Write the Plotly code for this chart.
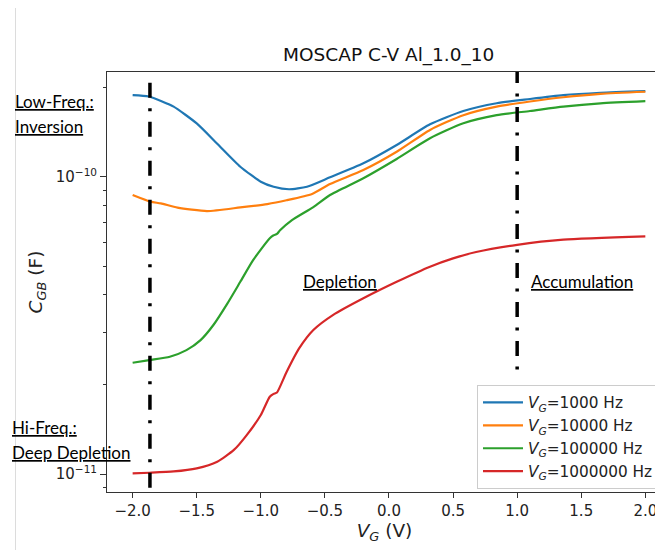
import plotly.graph_objects as go

# ---------------- data ----------------
v_1k = [-2.0, -1.875, -1.77, -1.68, -1.5, -1.34, -1.16, -1.0, -0.9, -0.78, -0.64, -0.46, -0.2, 0.06, 0.32, 0.58, 0.84, 1.1, 1.36, 1.65, 2.0]
c_1k = [1.88e-10, 1.86e-10, 1.79e-10, 1.72e-10, 1.51e-10, 1.29e-10, 1.08e-10, 9.62e-11, 9.25e-11, 9.07e-11, 9.25e-11, 9.95e-11, 1.109e-10, 1.278e-10, 1.5e-10, 1.663e-10, 1.766e-10, 1.825e-10, 1.88e-10, 1.915e-10, 1.94e-10]

v_10k = [-2.0, -1.86, -1.78, -1.65, -1.42, -1.16, -0.95, -0.8, -0.6, -0.46, -0.2, 0.06, 0.32, 0.58, 0.84, 1.1, 1.36, 1.65, 2.0]
c_10k = [8.68e-11, 8.24e-11, 8.13e-11, 7.87e-11, 7.66e-11, 7.88e-11, 8.09e-11, 8.33e-11, 8.75e-11, 9.45e-11, 1.053e-10, 1.213e-10, 1.436e-10, 1.61e-10, 1.72e-10, 1.79e-10, 1.85e-10, 1.9e-10, 1.93e-10]

v_100k = [-2.0, -1.87, -1.71, -1.58, -1.47, -1.37, -1.26, -1.16, -1.06, -0.93, -0.9, -0.874, -0.85, -0.757, -0.59, -0.46, -0.2, 0.06, 0.32, 0.58, 0.84, 1.1, 1.36, 1.65, 2.0]
c_100k = [2.367e-11, 2.417e-11, 2.48e-11, 2.61e-11, 2.82e-11, 3.17e-11, 3.75e-11, 4.43e-11, 5.24e-11, 6.21e-11, 6.35e-11, 6.42e-11, 6.6e-11, 7.14e-11, 7.9e-11, 8.68e-11, 9.88e-11, 1.147e-10, 1.346e-10, 1.512e-10, 1.61e-10, 1.663e-10, 1.72e-10, 1.765e-10, 1.795e-10]

v_1m = [-2.0, -1.87, -1.68, -1.5, -1.34, -1.21, -1.11, -1.0, -0.93, -0.9, -0.874, -0.8, -0.7, -0.59, -0.435, -0.2, 0.06, 0.32, 0.5, 0.68, 1.0, 1.36, 2.0]
c_1m = [1.005e-11, 1.01e-11, 1.02e-11, 1.045e-11, 1.1e-11, 1.205e-11, 1.352e-11, 1.58e-11, 1.82e-11, 1.86e-11, 1.88e-11, 2.2e-11, 2.65e-11, 3.05e-11, 3.43e-11, 3.9e-11, 4.43e-11, 4.98e-11, 5.31e-11, 5.58e-11, 5.9e-11, 6.14e-11, 6.3e-11]

series_names = ["<i>V</i><sub><i>G</i></sub>=1000 Hz", "<i>V</i><sub><i>G</i></sub>=10000 Hz",
                "<i>V</i><sub><i>G</i></sub>=100000 Hz", "<i>V</i><sub><i>G</i></sub>=1000000 Hz"]
series_colors = ["#1f77b4", "#ff7f0e", "#2ca02c", "#d62728"]

# boundary markers (dash-dot vertical lines)
vline_left_x = [-1.865, -1.865]
vline_left_y = [2.07e-10, 8.97e-12]
vline_right_x = [1.0, 1.0]
vline_right_y = [2.32e-10, 2.2e-11]

xtick_vals = [-2.0, -1.5, -1.0, -0.5, 0.0, 0.5, 1.0, 1.5, 2.0]
xtick_text = ["\u22122.0", "\u22121.5", "\u22121.0", "\u22120.5", "0.0", "0.5", "1.0", "1.5", "2.0"]
ytick_vals = [1e-11, 1e-10]
ytick_text = ["10<sup>\u221211</sup>", "10<sup>\u221210</sup>"]
yminor_vals = [9e-12, 2e-11, 3e-11, 4e-11, 5e-11, 6e-11, 7e-11, 8e-11, 9e-11, 2e-10]

# ---------------- figure ----------------
OFF = 8  # the page body margin offsets the figure by 8 px
W, H = 663 - OFF, 550 - OFF
L, R, T, B = 107 - OFF, 1, 72 - OFF, 58
PW, PH = W - L - R, H - T - B


def px(xp):  # page pixel x -> paper
    return (xp - OFF - L) / PW


def py(yp):  # page pixel y -> paper
    return (H - B - (yp - OFF)) / PH


fig = go.Figure()
for vx, cy, nm, col in zip([v_1k, v_10k, v_100k, v_1m], [c_1k, c_10k, c_100k, c_1m], series_names, series_colors):
    fig.add_trace(go.Scatter(x=vx, y=cy, mode="lines", name=nm,
                             line=dict(color=col, width=2.2, shape="spline", smoothing=0.6)))

dashdot = "15px,10.5px,3px,10.5px"
fig.add_trace(go.Scatter(x=vline_left_x, y=vline_left_y, mode="lines", showlegend=False,
                         line=dict(color="black", width=3.5, dash=dashdot), hoverinfo="skip"))
fig.add_trace(go.Scatter(x=vline_right_x, y=vline_right_y, mode="lines", showlegend=False,
                         line=dict(color="black", width=3.5, dash=dashdot), hoverinfo="skip"))

ann_font = dict(family="Lato", size=17, color="black", lineposition="under")
labels = [
    ("Low-Freq.:", 13, 102, "left"),
    ("Inversion", 13, 126, "left"),
    ("Hi-Freq.:", 10, 427, "left"),
    ("Deep Depletion", 10, 452, "left"),
    ("Depletion", 301, 281, "left"),
    ("Accumulation", 529, 281, "left"),
]
for txt, xp, yp, anc in labels:
    fig.add_annotation(text=txt, xref="paper", yref="paper", x=px(xp), y=py(yp),
                       xanchor=anc, yanchor="middle", showarrow=False, font=ann_font)

# faint page border on the left
fig.add_shape(type="line", xref="paper", yref="paper", x0=px(15.5), x1=px(15.5),
              y0=py(560), y1=py(OFF), line=dict(color="#dcdcdc", width=1))

axis_font = dict(family="DejaVu Sans", size=15, color="#222")
fig.update_layout(
    width=W, height=H,
    margin=dict(l=L, r=R, t=T, b=B, autoexpand=False),
    paper_bgcolor="white", plot_bgcolor="white",
    font=dict(family="DejaVu Sans", color="#222"),
    title=dict(text="MOSCAP C-V Al_1.0_10", x=(388.7 - OFF) / W, xanchor="center",
               y=1 - (55 - OFF) / H, yanchor="middle", automargin=False,
               font=dict(family="DejaVu Sans", size=18.5, color="#111")),
    xaxis=dict(range=[-2.2, 2.13], tickvals=xtick_vals, ticktext=xtick_text,
               ticks="outside", ticklen=5, tickwidth=1, tickcolor="#333",
               showline=True, linecolor="#333", linewidth=1, mirror=True,
               showgrid=False, zeroline=False, tickfont=axis_font, automargin=False,
               title=dict(text="<i>V</i><sub><i>G</i></sub> (V)", standoff=4,
                          font=dict(family="DejaVu Sans", size=18.5, color="#222"))),
    yaxis=dict(type="log", range=[-11.0605, -9.648], tickvals=ytick_vals, ticktext=ytick_text,
               ticks="outside", ticklen=6, tickwidth=1, tickcolor="#333",
               minor=dict(tickvals=yminor_vals, ticks="outside", ticklen=3.5, tickwidth=1,
                          tickcolor="#333", showgrid=False),
               showline=True, linecolor="#333", linewidth=1, mirror=False,
               showgrid=False, zeroline=False, tickfont=axis_font, automargin=False,
               title=dict(text="<i>C</i><sub><i>GB</i></sub> (F)", standoff=8,
                          font=dict(family="DejaVu Sans", size=18.5, color="#222"))),
    legend=dict(x=px(477), y=py(385), xanchor="left", yanchor="top", itemwidth=40,
                bgcolor="rgba(255,255,255,0.8)", bordercolor="#cccccc", borderwidth=1,
                font=dict(family="DejaVu Sans", size=15.3, color="#222")),
    showlegend=True,
)

fig.write_html("out.html")
